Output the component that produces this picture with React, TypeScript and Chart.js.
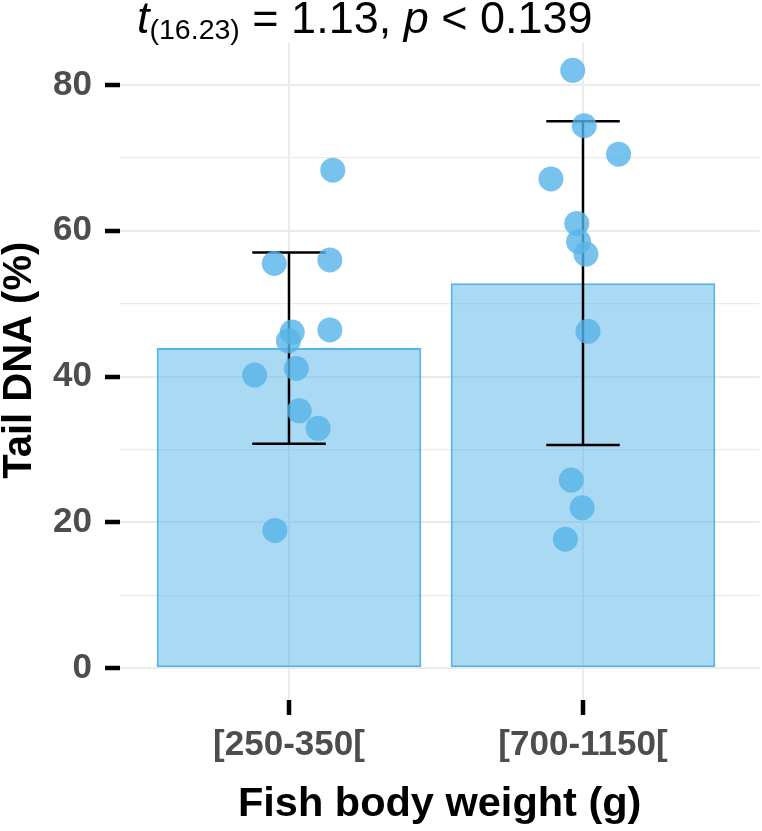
import React, { useRef, useEffect } from 'react';
import { Chart, registerables } from 'chart.js';

Chart.register(...registerables);

const categories = ['[250-350[', '[700-1150['];
const barMeans = [43.9, 52.8];
const errLow = [30.8, 30.6];
const errHigh = [57.0, 75.0];

const groupAValues = [68.3, 55.5, 56.0, 46.1, 44.9, 46.4, 40.2, 41.1, 35.3, 32.9, 18.9];
const groupAJitter = [0.149, -0.05, 0.139, 0.011, -0.002, 0.139, -0.117, 0.025, 0.035, 0.099, -0.048];
const groupBValues = [82.0, 74.4, 70.5, 67.1, 61.0, 58.5, 56.8, 46.2, 25.8, 22.0, 17.7];
const groupBJitter = [-0.035, 0.004, 0.121, -0.109, -0.021, -0.015, 0.01, 0.017, -0.04, -0.003, -0.06];

const yGridValues = [0, 10, 20, 30, 40, 50, 60, 70, 80];
const yTickLabels = [0, 20, 40, 60, 80];

const FONT = '"Liberation Sans", Arial, Helvetica, sans-serif';
const BLUE = '#56B4E9';
const CAP = 0.125;

const App: React.FC = () => {
  const canvasRef = useRef<HTMLCanvasElement>(null);

  useEffect(() => {
    if (!canvasRef.current) return;

    const points = [
      ...groupAValues.map((y, i) => ({ x: 1 + groupAJitter[i], y })),
      ...groupBValues.map((y, i) => ({ x: 2 + groupBJitter[i], y })),
    ];

    const errorSets: any[] = [];
    categories.forEach((_, i) => {
      const x = i + 1;
      const segs = [
        [{ x, y: errLow[i] }, { x, y: errHigh[i] }],
        [{ x: x - CAP, y: errHigh[i] }, { x: x + CAP, y: errHigh[i] }],
        [{ x: x - CAP, y: errLow[i] }, { x: x + CAP, y: errLow[i] }],
      ];
      segs.forEach((data) =>
        errorSets.push({
          type: 'line',
          data,
          borderColor: '#000000',
          borderWidth: 2.5,
          pointRadius: 0,
          borderCapStyle: 'butt',
          order: 1,
        })
      );
    });

    const chart = new Chart(canvasRef.current, {
      type: 'bar',
      data: {
        datasets: [
          {
            type: 'scatter',
            data: points,
            backgroundColor: 'rgba(86, 180, 233, 0.8)',
            borderWidth: 0,
            pointRadius: 12.5,
            pointHoverRadius: 12.5,
            order: 0,
          } as any,
          ...errorSets,
          {
            type: 'bar',
            data: barMeans.map((y, i) => ({ x: i + 1, y })),
            backgroundColor: 'rgba(86, 180, 233, 0.5)',
            borderColor: BLUE,
            borderWidth: 2,
            borderSkipped: false,
            barPercentage: 0.9,
            categoryPercentage: 1,
            order: 2,
          },
        ],
      },
      options: {
        responsive: false,
        animation: false,
        events: [],
        layout: { autoPadding: false, padding: { top: 42.7, right: 2.6, left: 0, bottom: 0 } },
        plugins: {
          legend: { display: false },
          tooltip: { enabled: false },
        },
        scales: {
          x: {
            type: 'linear',
            offset: false,
            min: 0.4252,
            max: 2.6,
            afterBuildTicks: (scale: any) => {
              scale.ticks = categories.map((_, i) => ({ value: i + 1 }));
            },
            afterFit: (scale: any) => {
              scale.height = 131;
            },
            border: { display: false },
            grid: {
              offset: false,
              color: '#EBEBEB',
              lineWidth: 2,
              tickColor: '#000000',
              tickWidth: 4.5,
              tickLength: 15,
            },
            ticks: {
              padding: 9,
              color: '#4D4D4D',
              font: { family: FONT, size: 35, weight: 'bold' },
              callback: (v: any) => categories[Math.round(v) - 1] ?? '',
            },
            title: {
              display: true,
              text: 'Fish body weight (g)',
              color: '#000000',
              font: { family: FONT, size: 41.5, weight: 'bold', lineHeight: 1 },
              padding: { top: 0, bottom: 6 },
            },
          },
          y: {
            type: 'linear',
            min: -4.36,
            max: 85.785,
            afterBuildTicks: (scale: any) => {
              scale.ticks = yGridValues.map((value) => ({ value }));
            },
            afterFit: (scale: any) => {
              scale.width = 120;
            },
            border: { display: false },
            grid: {
              color: '#EBEBEB',
              lineWidth: (ctx: any) => (yTickLabels.includes(ctx.tick?.value) ? 2 : 1.3),
              tickColor: (ctx: any) =>
                yTickLabels.includes(ctx.tick?.value) ? '#000000' : 'rgba(0,0,0,0)',
              tickWidth: 4.5,
              tickLength: 15,
            },
            ticks: {
              padding: 13,
              color: '#4D4D4D',
              font: { family: FONT, size: 35, weight: 'bold' },
              callback: (v: any) => (yTickLabels.includes(v) ? String(v) : ''),
            },
            title: {
              display: true,
              // two leading spaces nudge the centred title upward a little
              text: '  Tail DNA (%)',
              color: '#000000',
              font: { family: FONT, size: 40, weight: 'bold', lineHeight: 1 },
              padding: { top: 0, bottom: 0 },
            },
          },
        },
      } as any,
    });

    return () => chart.destroy();
  }, []);

  return (
    <div style={{ position: 'absolute', left: 0, top: 0, width: 762, height: 831, background: '#fff' }}>
      <canvas ref={canvasRef} width={762} height={831} style={{ display: 'block' }} />
      <div
        style={{
          position: 'absolute',
          left: 137,
          top: -5,
          fontFamily: FONT,
          fontSize: 45,
          lineHeight: '46px',
          color: '#000',
          whiteSpace: 'nowrap',
        }}
      >
        <i>t</i>
        <span style={{ fontSize: 28.5, position: 'relative', top: 6 }}>(16.23)</span>
        {' = 1.13, '}
        <i>p</i>
        {' < 0.139'}
      </div>
    </div>
  );
};

export default App;
